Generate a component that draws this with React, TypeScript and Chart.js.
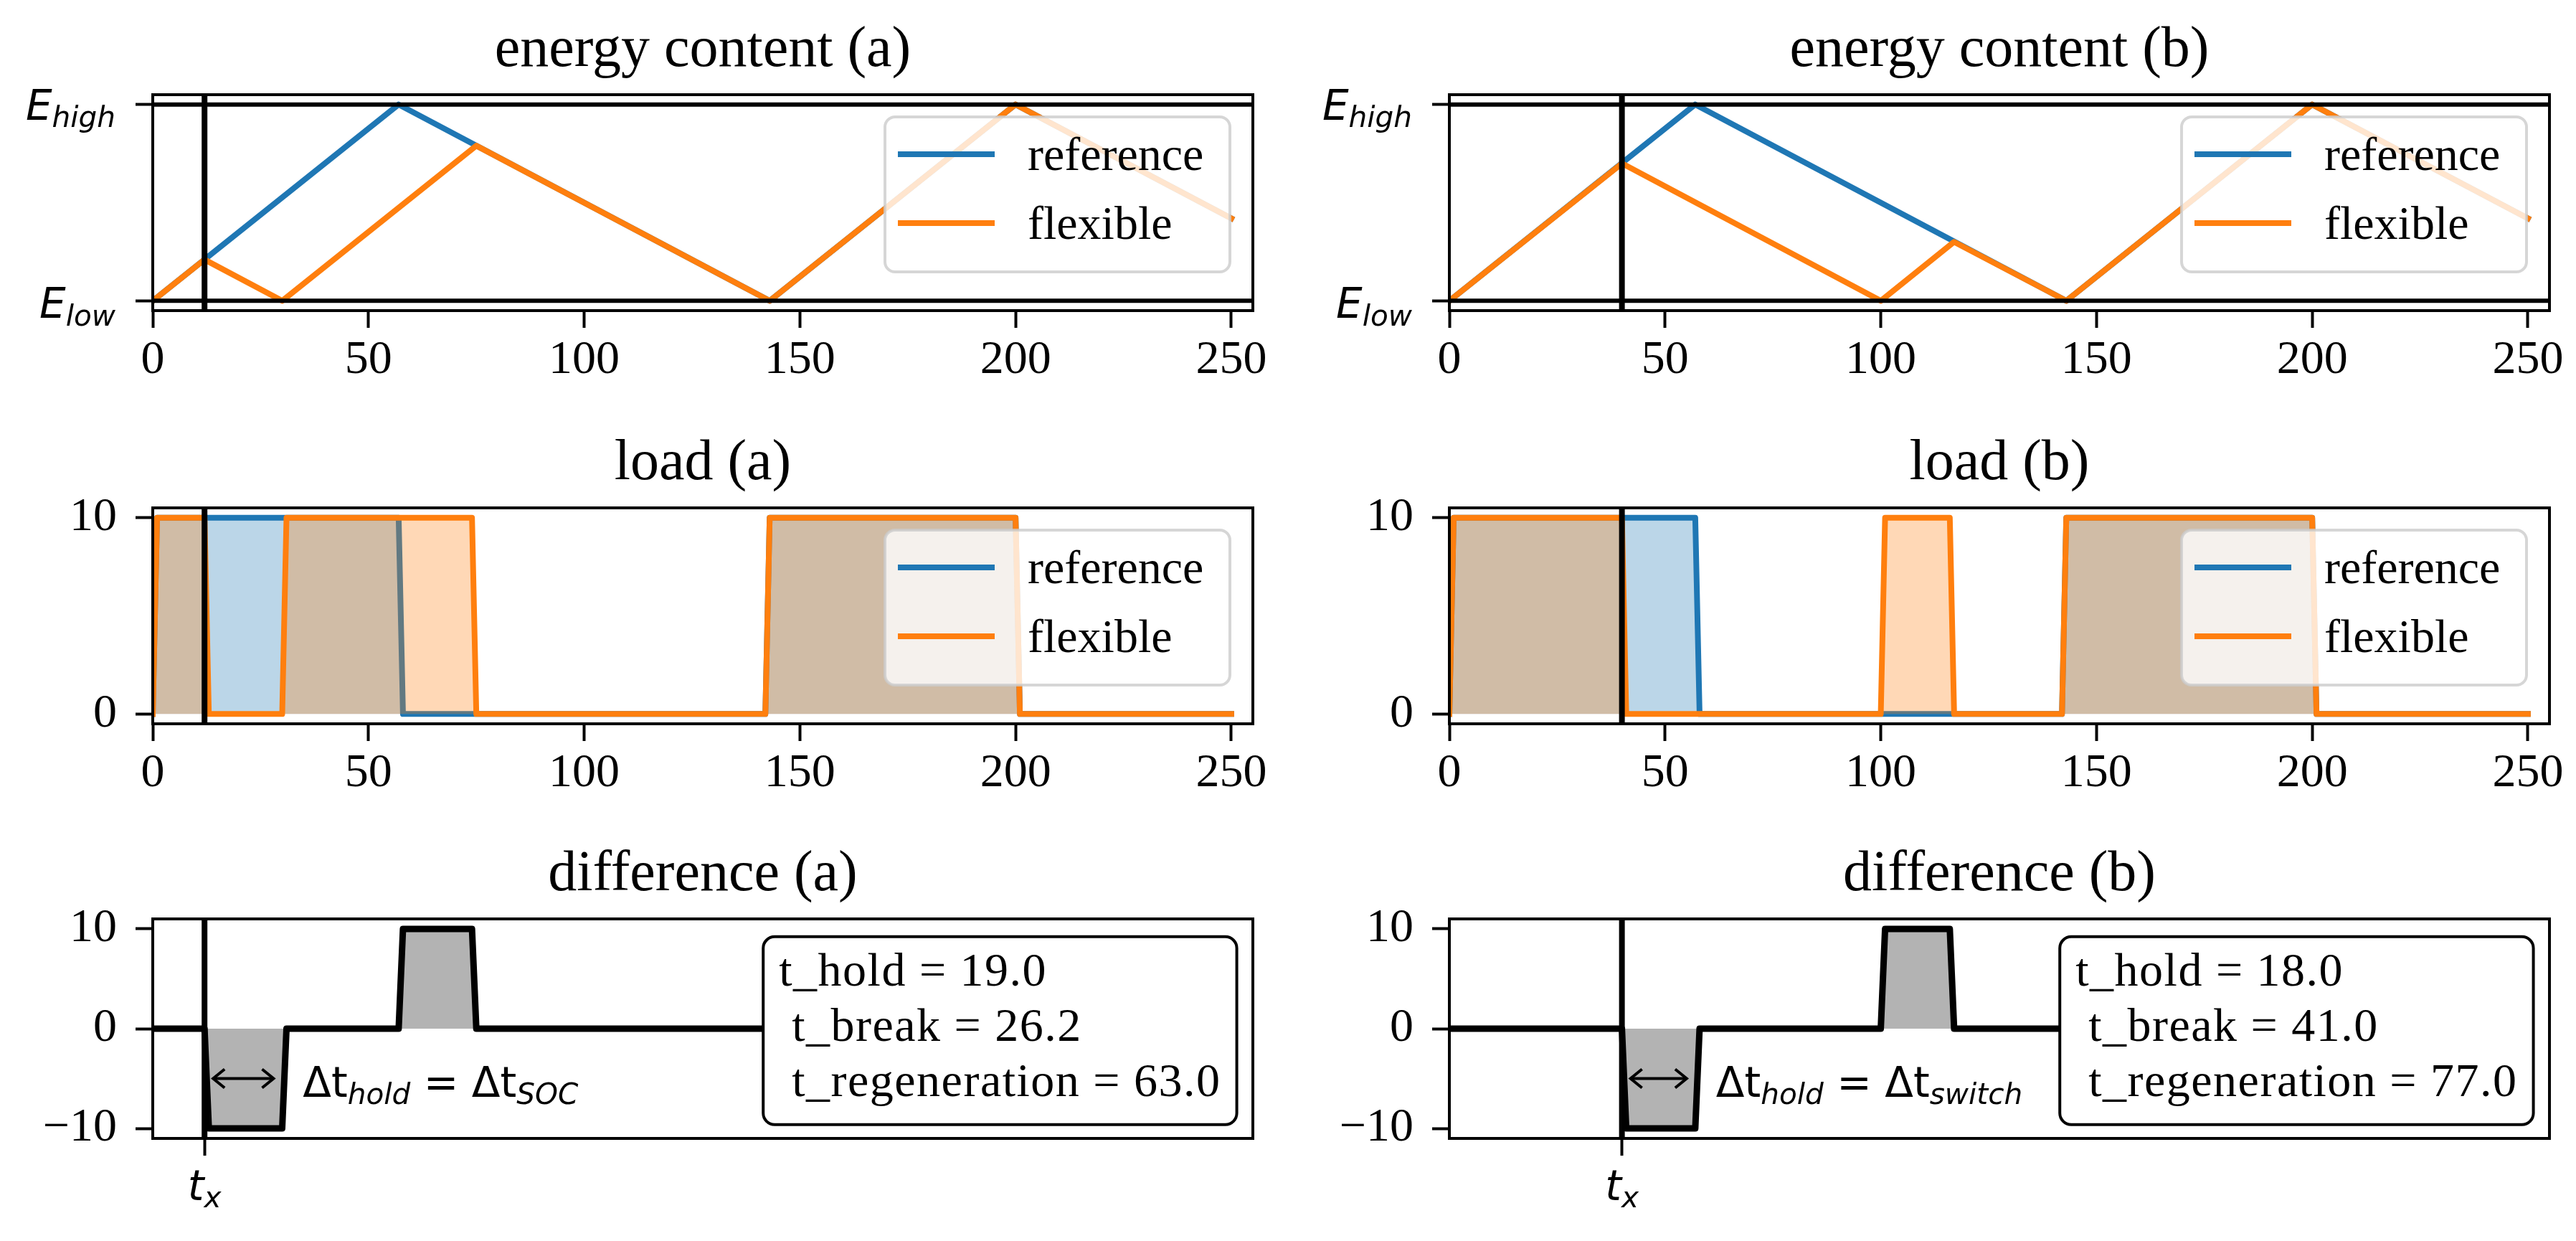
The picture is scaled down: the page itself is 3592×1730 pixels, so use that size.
import React, { useEffect, useRef } from "react";
import { Chart, registerables } from "chart.js";

Chart.register(...registerables);

// ---------------- data ----------------
const X_MIN = 0;
const X_MAX = 255;
const X_TICKS = [0, 50, 100, 150, 200, 250];
const ENERGY_TICKS = [0, 1];
const ENERGY_TICK_SUBS = ["low", "high"];
const LOAD_TICKS = [0, 10];
const DIFF_TICKS = [-10, 0, 10];
const SERIES_LABELS = ["reference", "flexible"];
const TITLES_A = ["energy content (a)", "load (a)", "difference (a)"];
const TITLES_B = ["energy content (b)", "load (b)", "difference (b)"];
const T_X = [12, 40];
const HOLD_END = [30, 57];
const DELTA_SUB = ["SOC", "switch"];
const STAT_NAMES = ["t_hold", " t_break", " t_regeneration"];
const STATS_A = [19.0, 26.2, 63.0];
const STATS_B = [18.0, 41.0, 77.0];
const STATS_BOX_X = 141.5;

// energy content (E_low = 0, E_high = 1)
const energyRefT = [0, 57, 143, 200, 250];
const energyRefV = [0, 1, 0, 1, 0.42];
const energyFlexT_a = [0, 12, 30, 75, 143, 200, 250];
const energyFlexV_a = [0, 0.21, 0, 0.79, 0, 1, 0.42];
const energyFlexT_b = [0, 40, 100, 117, 143, 200, 250];
const energyFlexV_b = [0, 0.7, 0, 0.3, 0, 1, 0.42];

// load
const loadRefT = [0, 1, 57, 58, 142, 143, 200, 201, 250];
const loadRefV = [0, 10, 10, 0, 0, 10, 10, 0, 0];
const loadFlexT_a = [0, 1, 12, 13, 30, 31, 74, 75, 142, 143, 200, 201, 250];
const loadFlexV_a = [0, 10, 10, 0, 0, 10, 10, 0, 0, 10, 10, 0, 0];
const loadFlexT_b = [0, 1, 40, 41, 100, 101, 116, 117, 142, 143, 200, 201, 250];
const loadFlexV_b = [0, 10, 10, 0, 0, 10, 10, 0, 0, 10, 10, 0, 0];

// difference (flexible - reference)
const diffT_a = [0, 12, 13, 30, 31, 57, 58, 74, 75, 250];
const diffV_a = [0, 0, -10, -10, 0, 0, 10, 10, 0, 0];
const diffT_b = [0, 40, 41, 57, 58, 100, 101, 116, 117, 250];
const diffV_b = [0, 0, -10, -10, 0, 0, 10, 10, 0, 0];

// ---------------- styling / layout ----------------
const BLUE = "#1f77b4";
const ORANGE = "#ff7f0e";
const SERIF = '"Liberation Serif", serif';
const MATH = '"DejaVu Sans", sans-serif';
const TICK_SIZE = 66;
const TITLE_SIZE = 80;
const MATH_SIZE = 58;

const COL_L = [213, 2021];
const AX_W = 1534;
const ROW_T = [132, 708, 1281];
const ROW_H = [301, 301, 306];
const PAD_L = 13;
const Y_AXIS_W = 200;
const X_AXIS_H = 100;
const PAD_R = 90;
const PAD_B = 20;

type Kind = "energy" | "load" | "diff";
type Spec = {
  col: number;
  row: number;
  title: string;
  kind: Kind;
  datasets: any[];
  tx: number;
  holdEnd: number;
  deltaSub: string;
  stats: number[];
};

const pts = (t: number[], v: number[]) => t.map((x, i) => ({ x, y: v[i] }));

const lineDs = (label: string, t: number[], v: number[], color: string, order: number, fillColor?: string) => ({
  label,
  data: pts(t, v),
  borderColor: color,
  backgroundColor: fillColor || color,
  borderWidth: 8,
  fill: fillColor ? "origin" : false,
  order,
  pointRadius: 0,
});

function buildSpecs(): Spec[] {
  const out: Spec[] = [];
  const cols = [
    { titles: TITLES_A, flexE: [energyFlexT_a, energyFlexV_a], flexL: [loadFlexT_a, loadFlexV_a], diff: [diffT_a, diffV_a], stats: STATS_A },
    { titles: TITLES_B, flexE: [energyFlexT_b, energyFlexV_b], flexL: [loadFlexT_b, loadFlexV_b], diff: [diffT_b, diffV_b], stats: STATS_B },
  ];
  cols.forEach((c, col) => {
    const common = { col, tx: T_X[col], holdEnd: HOLD_END[col], deltaSub: DELTA_SUB[col], stats: c.stats };
    out.push({
      ...common,
      row: 0,
      title: c.titles[0],
      kind: "energy",
      datasets: [
        lineDs(SERIES_LABELS[0], energyRefT, energyRefV, BLUE, 1),
        lineDs(SERIES_LABELS[1], c.flexE[0], c.flexE[1], ORANGE, 0),
      ],
    });
    out.push({
      ...common,
      row: 1,
      title: c.titles[1],
      kind: "load",
      datasets: [
        lineDs(SERIES_LABELS[0], loadRefT, loadRefV, BLUE, 1, "rgba(31,119,180,0.3)"),
        lineDs(SERIES_LABELS[1], c.flexL[0], c.flexL[1], ORANGE, 0, "rgba(255,127,14,0.3)"),
      ],
    });
    out.push({
      ...common,
      row: 2,
      title: c.titles[2],
      kind: "diff",
      datasets: [{ ...lineDs("difference", c.diff[0], c.diff[1], "#000000", 0, "#b3b3b3"), borderWidth: 9 }],
    });
  });
  return out;
}

const SPECS = buildSpecs();

// ---------------- drawing helpers ----------------
type MPart = { t: string; it?: boolean; sub?: boolean };

function drawMath(ctx: CanvasRenderingContext2D, parts: MPart[], x: number, base: number, size: number, align: "left" | "right" | "center") {
  const subSize = size * 0.7;
  const drop = size * 0.18;
  const fonts = parts.map((p) => `${p.it ? "italic " : ""}${p.sub ? subSize : size}px ${MATH}`);
  const widths = parts.map((p, i) => {
    ctx.font = fonts[i];
    return ctx.measureText(p.t).width;
  });
  const total = widths.reduce((s, w) => s + w, 0);
  let cx = align === "right" ? x - total : align === "center" ? x - total / 2 : x;
  ctx.textAlign = "left";
  ctx.textBaseline = "alphabetic";
  parts.forEach((p, i) => {
    ctx.font = fonts[i];
    ctx.fillText(p.t, cx, base + (p.sub ? drop : 0));
    cx += widths[i];
  });
}

function roundRectPath(ctx: CanvasRenderingContext2D, x: number, y: number, w: number, h: number, r: number) {
  ctx.beginPath();
  ctx.moveTo(x + r, y);
  ctx.lineTo(x + w - r, y);
  ctx.arcTo(x + w, y, x + w, y + r, r);
  ctx.lineTo(x + w, y + h - r);
  ctx.arcTo(x + w, y + h, x + w - r, y + h, r);
  ctx.lineTo(x + r, y + h);
  ctx.arcTo(x, y + h, x, y + h - r, r);
  ctx.lineTo(x, y + r);
  ctx.arcTo(x, y, x + r, y, r);
  ctx.closePath();
}

function seg(ctx: CanvasRenderingContext2D, x1: number, y1: number, x2: number, y2: number) {
  ctx.beginPath();
  ctx.moveTo(x1, y1);
  ctx.lineTo(x2, y2);
  ctx.stroke();
}

function decorPlugin(spec: Spec) {
  return {
    id: "decor",
    afterDraw(chart: any) {
      const ctx: CanvasRenderingContext2D = chart.ctx;
      const a = chart.chartArea;
      const xs = chart.scales.x;
      const ys = chart.scales.y;
      ctx.save();
      ctx.strokeStyle = "#000";
      ctx.fillStyle = "#000";
      ctx.lineCap = "butt";

      // E_low / E_high horizontal lines
      if (spec.kind === "energy") {
        ctx.lineWidth = 6;
        ENERGY_TICKS.forEach((v) => {
          const py = ys.getPixelForValue(v);
          seg(ctx, a.left, py, a.right, py);
        });
      }

      // t_x vertical line
      const pxTx = xs.getPixelForValue(spec.tx);
      ctx.lineWidth = 8;
      seg(ctx, pxTx, a.top, pxTx, a.bottom);

      if (spec.kind === "diff") {
        // double arrow
        const ya = ys.getPixelForValue(-5);
        const x1 = pxTx + 12;
        const x2 = xs.getPixelForValue(spec.holdEnd) - 12;
        ctx.lineWidth = 4;
        seg(ctx, x1, ya, x2, ya);
        ctx.beginPath();
        ctx.moveTo(x1 + 16, ya - 13);
        ctx.lineTo(x1, ya);
        ctx.lineTo(x1 + 16, ya + 13);
        ctx.stroke();
        ctx.beginPath();
        ctx.moveTo(x2 - 16, ya - 13);
        ctx.lineTo(x2, ya);
        ctx.lineTo(x2 - 16, ya + 13);
        ctx.stroke();
        drawMath(
          ctx,
          [{ t: "\u0394t" }, { t: "hold", it: true, sub: true }, { t: " = \u0394t" }, { t: spec.deltaSub, it: true, sub: true }],
          xs.getPixelForValue(spec.holdEnd + 4.8),
          ya + 25,
          MATH_SIZE,
          "left"
        );

        // statistics box
        ctx.font = `${TICK_SIZE}px ${SERIF}`;
        (ctx as any).letterSpacing = "1.5px";
        const lines = STAT_NAMES.map((n, i) => `${n} = ${spec.stats[i].toFixed(1)}`);
        const tw = Math.max(...lines.map((l) => ctx.measureText(l).width));
        const bw = tw + 44;
        const bh = 262;
        const bx = xs.getPixelForValue(STATS_BOX_X);
        const by = ys.getPixelForValue(-0.2) - bh / 2;
        roundRectPath(ctx, bx, by, bw, bh, 16);
        ctx.fillStyle = "#fff";
        ctx.fill();
        ctx.lineWidth = 4;
        ctx.stroke();
        ctx.fillStyle = "#000";
        ctx.textAlign = "left";
        ctx.textBaseline = "alphabetic";
        lines.forEach((l, i) => ctx.fillText(l, bx + 22, by + 68 + i * 77));
        (ctx as any).letterSpacing = "0px";
      }

      // frame
      ctx.lineWidth = 4;
      ctx.strokeRect(a.left, a.top, a.right - a.left, a.bottom - a.top);

      // legend
      if (spec.kind !== "diff") {
        const lw = 481;
        const lh = 216;
        const lx = a.right - 32 - lw;
        const ly = a.top + 31;
        roundRectPath(ctx, lx, ly, lw, lh, 14);
        ctx.fillStyle = "rgba(255,255,255,0.8)";
        ctx.fill();
        ctx.strokeStyle = "rgba(204,204,204,0.8)";
        ctx.lineWidth = 4;
        ctx.stroke();
        const ds = chart.data.datasets;
        ds.forEach((d: any, i: number) => {
          const ry = ly + 52 + i * 96;
          ctx.strokeStyle = d.borderColor;
          ctx.lineWidth = 8;
          seg(ctx, lx + 18, ry, lx + 153, ry);
          ctx.fillStyle = "#000";
          ctx.font = `${TICK_SIZE}px ${SERIF}`;
          ctx.textAlign = "left";
          ctx.textBaseline = "alphabetic";
          ctx.fillText(d.label, lx + 199, ry + 22);
        });
        ctx.strokeStyle = "#000";
      }

      // title
      ctx.fillStyle = "#000";
      ctx.font = `${TITLE_SIZE}px ${SERIF}`;
      ctx.textAlign = "center";
      ctx.textBaseline = "alphabetic";
      ctx.fillText(spec.title, (a.left + a.right) / 2, a.top - 40);

      // E_low / E_high tick labels
      if (spec.kind === "energy") {
        ENERGY_TICKS.forEach((v, i) => {
          const py = ys.getPixelForValue(v);
          drawMath(ctx, [{ t: "E", it: true }, { t: ENERGY_TICK_SUBS[i], it: true, sub: true }], a.left - 52, py + (i === 0 ? 24 : 21), MATH_SIZE, "right");
        });
      }

      // t_x tick label
      if (spec.kind === "diff") {
        drawMath(ctx, [{ t: "t", it: true }, { t: "x", it: true, sub: true }], pxTx, a.bottom + 86, MATH_SIZE, "center");
      }
      ctx.restore();
    },
  };
}

function makeConfig(spec: Spec): any {
  const yc =
    spec.kind === "energy"
      ? { min: -0.05, max: 1.05, ticks: ENERGY_TICKS, labels: false }
      : spec.kind === "load"
      ? { min: -0.5, max: 10.5, ticks: LOAD_TICKS, labels: true }
      : { min: -11, max: 11, ticks: DIFF_TICKS, labels: true };
  const xTicks = spec.kind === "diff" ? [spec.tx] : X_TICKS;
  const grid = { display: true, drawOnChartArea: false, drawTicks: true, tickLength: 24, tickWidth: 4, tickColor: "#000", color: "#000" };
  return {
    type: "line",
    data: { datasets: spec.datasets },
    options: {
      animation: false,
      responsive: false,
      maintainAspectRatio: false,
      devicePixelRatio: 1,
      events: [],
      layout: { padding: { left: PAD_L, top: 132, right: PAD_R, bottom: PAD_B } },
      elements: {
        point: { radius: 0, hoverRadius: 0 },
        line: { tension: 0, borderJoinStyle: "round", borderCapStyle: "square" },
      },
      plugins: { legend: { display: false }, tooltip: { enabled: false }, title: { display: false } },
      scales: {
        x: {
          type: "linear",
          position: "bottom",
          min: X_MIN,
          max: X_MAX,
          afterBuildTicks: (s: any) => {
            s.ticks = xTicks.map((v) => ({ value: v }));
          },
          afterFit: (s: any) => {
            s.height = X_AXIS_H;
          },
          ticks: {
            autoSkip: false,
            maxRotation: 0,
            minRotation: 0,
            padding: 6,
            color: "#000",
            font: { family: SERIF, size: TICK_SIZE },
            callback: (v: number) => (spec.kind === "diff" ? "" : String(v)),
          },
          grid,
          border: { display: false },
        },
        y: {
          type: "linear",
          position: "left",
          min: yc.min,
          max: yc.max,
          afterBuildTicks: (s: any) => {
            s.ticks = yc.ticks.map((v) => ({ value: v }));
          },
          afterFit: (s: any) => {
            s.width = Y_AXIS_W;
          },
          ticks: {
            autoSkip: false,
            padding: 26,
            color: "#000",
            font: { family: SERIF, size: TICK_SIZE },
            callback: (v: number) => (yc.labels ? (v < 0 ? "\u2212" + Math.abs(v) : String(v)) : ""),
          },
          grid,
          border: { display: false },
        },
      },
    },
    plugins: [decorPlugin(spec)],
  };
}

function Panel({ spec }: { spec: Spec }) {
  const ref = useRef<HTMLCanvasElement | null>(null);
  const W = PAD_L + Y_AXIS_W + AX_W + PAD_R;
  const H = 132 + ROW_H[spec.row] + X_AXIS_H + PAD_B;
  useEffect(() => {
    const chart = new Chart(ref.current as HTMLCanvasElement, makeConfig(spec));
    return () => chart.destroy();
  }, [spec]);
  return (
    <canvas
      ref={ref}
      width={W}
      height={H}
      style={{ position: "absolute", left: COL_L[spec.col] - PAD_L - Y_AXIS_W, top: ROW_T[spec.row] - 132, width: W, height: H }}
    />
  );
}

export default function App() {
  return (
    <div style={{ position: "fixed", left: 0, top: 0, width: 3592, height: 1730, overflow: "hidden", background: "#fff" }}>
      {SPECS.map((s, i) => (
        <Panel key={i} spec={s} />
      ))}
    </div>
  );
}
